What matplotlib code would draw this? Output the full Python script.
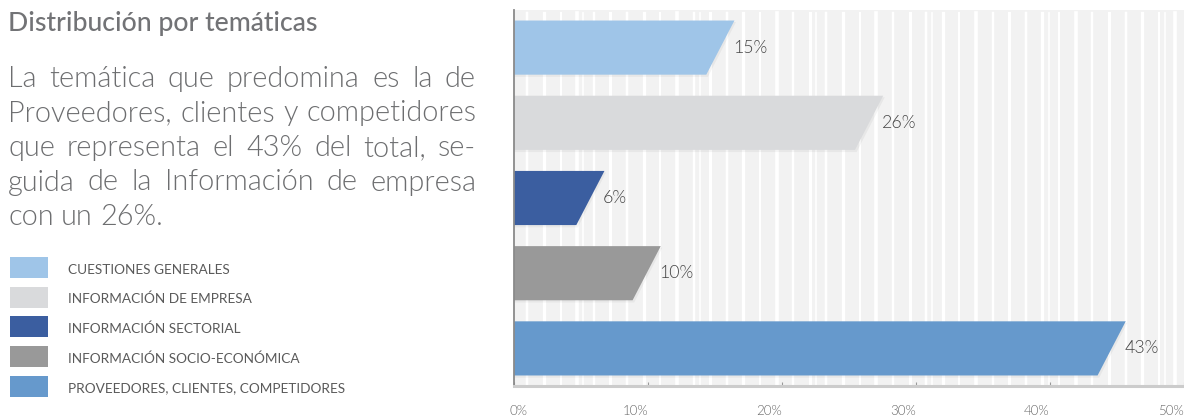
import numpy as np
import matplotlib
matplotlib.use("Agg")
import matplotlib.pyplot as plt
from matplotlib.patches import Polygon, Rectangle
from matplotlib.transforms import ScaledTranslation

plt.rcParams['font.family'] = ['Lato', 'DejaVu Sans']

# data
categories = ['CUESTIONES GENERALES', 'INFORMACIÓN DE EMPRESA', 'INFORMACIÓN SECTORIAL',
              'INFORMACIÓN SOCIO-ECONÓMICA', 'PROVEEDORES, CLIENTES, COMPETIDORES']
shares = [15, 26, 6, 10, 43]                  # labels
bar_ends = [15.4, 26.5, 5.7, 9.9, 44.6]       # drawn length (middle of slanted end)
colors = ['#9fc5e8', '#d9dadc', '#3b5ea0', '#999999', '#6699cc']
xticks = [0, 10, 20, 30, 40, 50]

title = 'Distribución por temáticas'
body = ['La temática que predomina es la de',
        'Proveedores, clientes y competidores',
        'que representa el 43% del total, se-',
        'guida de la Información de empresa',
        'con un 26%.']

W, H = 1184, 416
fig = plt.figure(figsize=(W / 100, H / 100), dpi=100)
fig.patch.set_facecolor('white')


def fx(px):
    return px / W


def fy(py):
    return (H - py) / H


ax = fig.add_axes([fx(514), 30 / H, 670 / W, 376 / H])
ax.set_facecolor('#f2f2f2')
ax.set_xlim(0, 50)
ax.set_ylim(len(categories) - 0.5, -0.5)

# white background stripes
stripe_w = [2.5, 3.2, 2.0, 3.6, 2.4, 3.0]
for i, sx in enumerate(np.arange(1.0, 50, 1.24)):
    ax.axvline(sx, ymin=0, ymax=(386 - 13) / 376, color='white',
               lw=stripe_w[i % len(stripe_w)] * 0.72, zorder=0.5)
    if i % 7 == 3:
        ax.axvline(sx + 0.45, ymin=0, ymax=(386 - 13) / 376, color='white', lw=1.2, zorder=0.5)

h = 0.72
slant = 1.05
for i, (v, c) in enumerate(zip(bar_ends, colors)):
    top, bot = i - h / 2, i + h / 2
    shadow = Polygon([(0, top + 0.02), (v + slant + 0.12, top + 0.02), (v - slant + 0.12, bot + 0.03),
                      (0, bot + 0.03)], closed=True, facecolor='black', alpha=0.045,
                     edgecolor='none', zorder=1)
    ax.add_patch(shadow)
    poly = Polygon([(0, top), (v + slant, top), (v - slant, bot), (0, bot)], closed=True,
                   facecolor=c, edgecolor='none', zorder=2)
    ax.add_patch(poly)
    ax.text(v + slant - 0.1, i, f'{shares[i]}%', ha='left', va='center',
            fontsize=12.8, fontweight=300, color='#444444', zorder=3)

for s in ['top', 'right']:
    ax.spines[s].set_visible(False)
ax.spines['left'].set_color('#8a8a8a')
ax.spines['left'].set_linewidth(1.3)
ax.spines['bottom'].set_color('#cccccc')
ax.spines['bottom'].set_linewidth(2.2)
ax.set_yticks([])
ax.set_xticks(xticks)
ax.set_xticklabels([f'{t}%' for t in xticks])
ax.tick_params(axis='x', direction='in', length=3, width=0.8, color='#999999',
               labelsize=9.5, labelcolor='#666666', pad=14)
for j, lab in enumerate(ax.get_xticklabels()):
    dx = 4 if j == 0 else -13
    lab.set_transform(lab.get_transform() + ScaledTranslation(dx / 100, 0, fig.dpi_scale_trans))
    lab.set_fontweight(300)

# title and justified paragraph
fig.text(fx(8), fy(31.5), title, fontsize=19.2, fontweight='medium', color='#727376',
         va='baseline', ha='left')

renderer = fig.canvas.get_renderer()
x0, x1 = 8, 476
for k, line in enumerate(body):
    y = 87 + k * 34.5
    words = line.split()
    txts = [fig.text(0, fy(y), w, fontsize=20.8, fontweight=300, color='#6d6e70',
                     va='baseline', ha='left') for w in words]
    widths = [t.get_window_extent(renderer).width for t in txts]
    if k == len(body) - 1 or len(words) == 1:
        gap = 7.5
    else:
        gap = (x1 - x0 - sum(widths)) / (len(words) - 1)
    x = x0
    for t, wd in zip(txts, widths):
        t.set_x(fx(x))
        x += wd + gap

# legend
for i, (cat, c) in enumerate(zip(categories, colors)):
    ytop = 257 + i * 29.7
    fig.patches.append(Rectangle((fx(10), fy(ytop + 21)), 38 / W, 21 / H, facecolor=c,
                                 edgecolor='none', transform=fig.transFigure, figure=fig))
    fig.text(fx(68), fy(ytop + 16.5), cat, fontsize=9.8, fontweight='normal', color='#5a5a5a',
             va='baseline', ha='left')

fig.savefig('out.png', dpi=100)
